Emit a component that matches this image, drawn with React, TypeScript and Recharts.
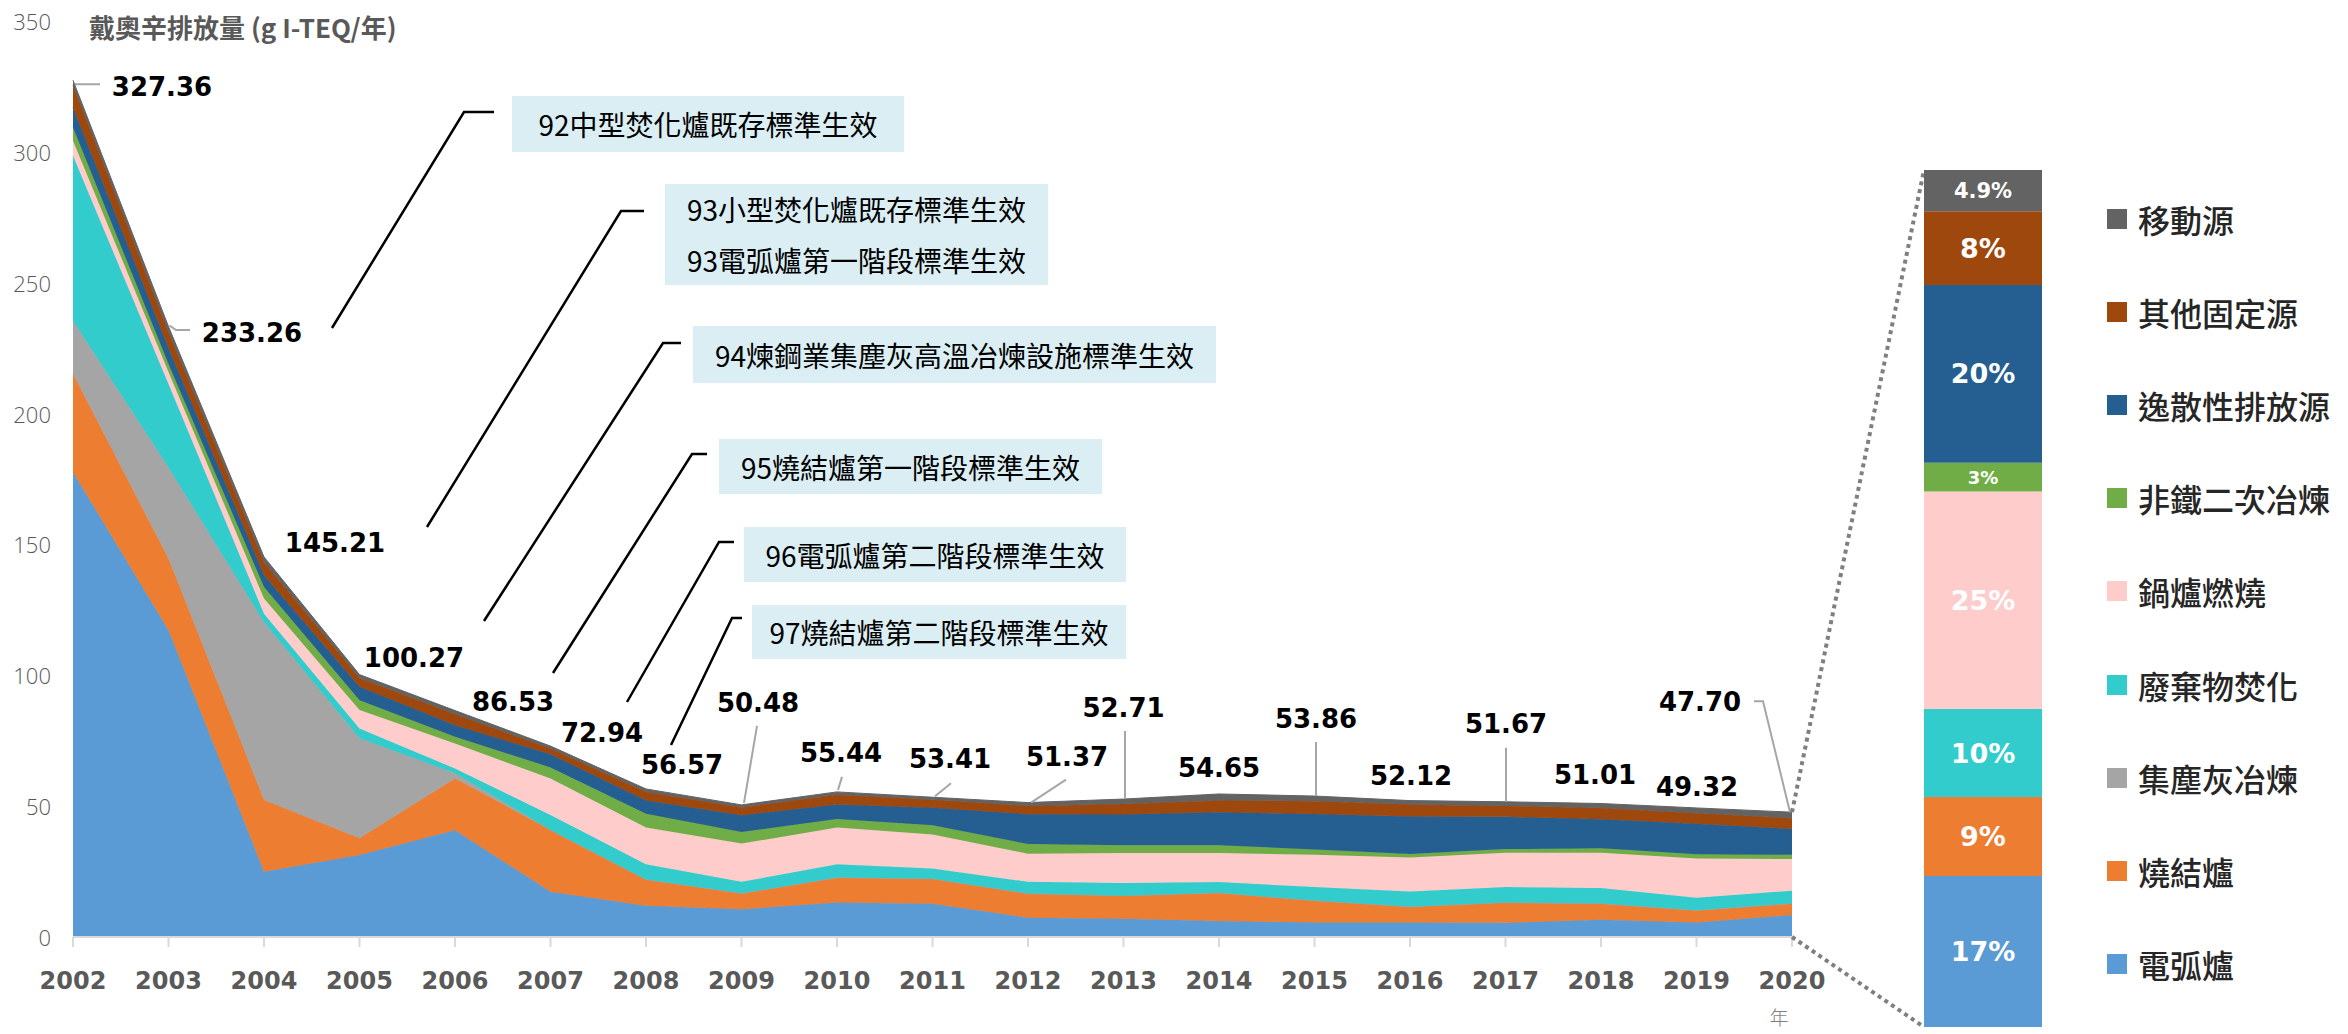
import { AreaChart, Area, XAxis, YAxis, BarChart, Bar, LabelList } from 'recharts'

const years = ['2002', '2003', '2004', '2005', '2006', '2007', '2008', '2009', '2010', '2011', '2012', '2013', '2014', '2015', '2016', '2017', '2018', '2019', '2020']
const totals = [327.36, 233.26, 145.21, 100.27, 86.53, 72.94, 56.57, 50.48, 55.44, 53.41, 51.37, 52.71, 54.65, 53.86, 52.12, 51.67, 51.01, 49.32, 47.7]

const arcFurnace = [177.6, 117.2, 24.9, 31.3, 40.8, 17.3, 11.9, 10.6, 13.2, 12.7, 7.4, 7.0, 6.1, 5.5, 5.5, 5.4, 6.6, 5.5, 8.4]
const sinterPlant = [37.5, 27.3, 27.4, 6.4, 19.8, 23.6, 10.1, 6.1, 9.5, 9.6, 9.2, 8.8, 10.8, 8.4, 6.1, 7.8, 6.2, 4.7, 4.4]
const dustSmelting = [20.4, 34.9, 68.0, 38.2, 2.0, 0, 0, 0, 0, 0, 0, 0, 0, 0, 0, 0, 0, 0, 0]
const wasteIncineration = [63.0, 31.9, 3.2, 3.8, 1.8, 5.7, 5.8, 4.4, 5.1, 3.9, 4.5, 4.8, 4.1, 5.2, 5.8, 5.9, 5.9, 4.8, 4.9]
const boiler = [5.7, 4.6, 5.8, 7.0, 9.5, 14.0, 14.0, 14.6, 14.0, 13.0, 10.7, 11.5, 11.1, 12.3, 13.0, 13.1, 13.5, 15.0, 12.1]
const nonFerrous = [5.1, 3.0, 4.4, 3.8, 2.6, 4.2, 5.3, 4.4, 3.3, 3.5, 3.7, 3.0, 3.0, 2.0, 1.3, 1.4, 1.7, 1.6, 1.6]
const fugitive = [7.6, 6.1, 4.5, 5.1, 4.4, 5.0, 5.1, 6.4, 5.5, 6.7, 11.4, 11.7, 12.6, 13.6, 14.3, 12.3, 11.1, 11.7, 9.9]
const otherStationary = [8.5, 6.1, 5.0, 3.4, 4.2, 2.2, 3.2, 3.0, 3.8, 3.0, 3.2, 4.0, 4.5, 4.9, 4.6, 4.2, 4.3, 4.0, 4.1]
const mobile = [1.96, 2.16, 2.01, 1.27, 1.43, 0.94, 1.17, 0.98, 1.04, 1.01, 1.27, 1.91, 2.45, 1.96, 1.52, 1.57, 1.71, 2.02, 2.3]

const yTicks = [0, 50, 100, 150, 200, 250, 300, 350]

// 2020 share labels shown in the side bar
const shareLabels: Record<string, string> = {
  電弧爐: '17%', 燒結爐: '9%', 廢棄物焚化: '10%', 鍋爐燃燒: '25%',
  非鐵二次冶煉: '3%', 逸散性排放源: '20%', 其他固定源: '8%', 移動源: '4.9%',
}

const series = [
  { key: '電弧爐', values: arcFurnace, color: '#5B9BD5' },
  { key: '燒結爐', values: sinterPlant, color: '#ED7D31' },
  { key: '集塵灰冶煉', values: dustSmelting, color: '#A5A5A5' },
  { key: '廢棄物焚化', values: wasteIncineration, color: '#33CCCC' },
  { key: '鍋爐燃燒', values: boiler, color: '#FFCCCC' },
  { key: '非鐵二次冶煉', values: nonFerrous, color: '#70AD47' },
  { key: '逸散性排放源', values: fugitive, color: '#255E91' },
  { key: '其他固定源', values: otherStationary, color: '#9E480E' },
  { key: '移動源', values: mobile, color: '#636363' },
]

const annotations = [
  { lines: ['92中型焚化爐既存標準生效'], box: [512, 96, 392, 56], leader: [[494, 112], [464, 112], [332, 328]] },
  { lines: ['93小型焚化爐既存標準生效', '93電弧爐第一階段標準生效'], box: [665, 184, 383, 101], leader: [[644, 211], [621, 211], [427, 527]] },
  { lines: ['94煉鋼業集塵灰高溫冶煉設施標準生效'], box: [693, 326, 523, 57], leader: [[681, 343], [663, 343], [484, 621]] },
  { lines: ['95燒結爐第一階段標準生效'], box: [719, 439, 383, 55], leader: [[707, 454], [692, 454], [553, 673]] },
  { lines: ['96電弧爐第二階段標準生效'], box: [744, 527, 382, 55], leader: [[734, 542], [719, 542], [627, 702]] },
  { lines: ['97燒結爐第二階段標準生效'], box: [752, 605, 374, 54], leader: [[742, 618], [732, 618], [671, 745]] },
]

const labelOffsets: [number, number][] = [
  [89, 7], [83.5, 6.5], [71, -14], [54.5, -16.6], [58, -8.6], [51.5, -13], [36, -24], [16.5, -102],
  [4, -39], [17.5, -38], [39, -45.6], [0, -91], [0, -26], [1.5, -77], [1, -25], [0.5, -78],
  [-6, -28.5], [0.5, -21], [-92, -110],
]
const labelLeaders: Record<number, [number, number][]> = {
  0: [[2, 4], [27, 4]],
  1: [[1, -1], [7.5, 3.5], [21.5, 3.5]],
  7: [[2.5, -2], [15.5, -79]],
  8: [[1, -2], [5, -15]],
  9: [[2.5, -1], [18.5, -14]],
  10: [[3, 0], [38, -23]],
  11: [[1.5, 0], [1.5, -68]],
  13: [[1.5, 0], [1.5, -54]],
  15: [[0.5, 0], [0.5, -54]],
  18: [[-2, 0], [-29, -111], [-38, -111]],
}

const PLOT_BOTTOM = 937
const BAR_X = 1924
const BAR_Y = 170
const BAR_W = 118
const BAR_H = 857

const data = years.map((year, i) => {
  const row: Record<string, number | string> = { year }
  series.forEach(s => { row[s.key] = s.values[i] })
  return row
})
const last = years.length - 1
const barRow: Record<string, number | string> = { name: years[last] }
series.forEach(s => { barRow[s.key] = s.values[last] })
const barData = [barRow]

const cjk = "'Noto Sans CJK TC', 'Noto Sans CJK SC', sans-serif"
const boldNum = "'DejaVu Sans', sans-serif"

const TotalMark = (props: any) => {
  const { cx, cy, index } = props
  if (cx == null || cy == null) return <g key={`t${index}`} />
  const [dx, dy] = labelOffsets[index]
  const leader = labelLeaders[index]
  return (
    <g key={`t${index}`}>
      {leader && (
        <polyline
          points={leader.map(p => `${cx + p[0]},${cy + p[1]}`).join(' ')}
          fill="none" stroke="#A6A6A6" strokeWidth={2}
        />
      )}
      {index === last && (
        <g>
          <line x1={cx} y1={cy} x2={BAR_X} y2={BAR_Y} stroke="#7F7F7F" strokeWidth={4} strokeDasharray="4 4" />
          <line x1={cx} y1={PLOT_BOTTOM} x2={BAR_X} y2={BAR_Y + BAR_H} stroke="#7F7F7F" strokeWidth={4} strokeDasharray="4 4" />
        </g>
      )}
      <text x={cx + dx} y={cy + dy} textAnchor="middle" dominantBaseline="central"
        fontFamily={boldNum} fontWeight={700} fontSize={26} fill="#000">
        {totals[index].toFixed(2)}
      </text>
    </g>
  )
}

const YearTick = ({ x, y, payload }: any) => (
  <text x={x} y={y + 32} textAnchor="middle" dominantBaseline="central"
    fontFamily={boldNum} fontWeight={700} fontSize={24} fill="#595959">
    {payload.value}
  </text>
)

const ValueTick = ({ y, payload }: any) => (
  <text x={51} y={y} textAnchor="end" dominantBaseline="central"
    fontFamily="'Open Sans', sans-serif" fontWeight={300} fontSize={22} fill="#595959">
    {payload.value}
  </text>
)

const shareSize = (k: string) => (k === '移動源' ? 21 : k === '非鐵二次冶煉' ? 18 : 27)

export default function App() {
  return (
    <div style={{ position: 'absolute', left: 0, top: 0, width: 2348, height: 1034, background: '#fff', overflow: 'hidden' }}>
      <div style={{ position: 'absolute', left: 0, top: 0 }}>
        <AreaChart width={1940} height={1034} data={data} margin={{ top: 21, right: 148, left: 13, bottom: 37 }}>
          <XAxis dataKey="year" height={60} interval={0} tick={<YearTick />}
            axisLine={{ stroke: '#D9D9D9', strokeWidth: 2 }} tickLine={{ stroke: '#D9D9D9', strokeWidth: 2 }} tickSize={10} />
          <YAxis width={60} domain={[0, 350]} ticks={yTicks} axisLine={false} tickLine={false} tick={<ValueTick />} />
          {series.map((s, i) => (
            <Area
              key={s.key}
              type="linear"
              dataKey={s.key}
              stackId="1"
              stroke={s.color}
              strokeWidth={1}
              fill={s.color}
              fillOpacity={1}
              isAnimationActive={false}
              activeDot={false}
              dot={i === series.length - 1 ? TotalMark : false}
            />
          ))}
        </AreaChart>
      </div>

      <div style={{ position: 'absolute', left: BAR_X, top: BAR_Y }}>
        <BarChart width={BAR_W} height={BAR_H} data={barData} margin={{ top: 0, right: 0, bottom: 0, left: 0 }} barCategoryGap={0}>
          <XAxis dataKey="name" hide />
          <YAxis hide domain={[0, totals[last]]} allowDataOverflow />
          {series.filter(s => s.key !== '集塵灰冶煉').map(s => (
            <Bar key={s.key} dataKey={s.key} stackId="b" fill={s.color} isAnimationActive={false}>
              <LabelList
                dataKey={s.key}
                content={(p: any) => (
                  <text x={p.x + p.width / 2} y={p.y + p.height / 2} textAnchor="middle" dominantBaseline="central"
                    fontFamily={boldNum} fontWeight={700} fontSize={shareSize(s.key)} fill="#fff">
                    {shareLabels[s.key]}
                  </text>
                )}
              />
            </Bar>
          ))}
        </BarChart>
      </div>

      {/* legend, top to bottom */}
      <div style={{ position: 'absolute', left: 2107, top: 0 }}>
        {[...series].reverse().map((s, i) => (
          <div key={s.key} style={{ position: 'absolute', top: 219 + i * 93.1 - 20, left: 0, height: 40, display: 'flex', alignItems: 'center', whiteSpace: 'nowrap' }}>
            <div style={{ width: 20, height: 20, background: s.color, marginRight: 11 }} />
            <span style={{ fontFamily: cjk, fontSize: 32, fontWeight: 500, color: '#262626' }}>{s.key}</span>
          </div>
        ))}
      </div>

      <svg width={2348} height={1034} style={{ position: 'absolute', left: 0, top: 0, pointerEvents: 'none' }}>
        <text x={89} y={26} dominantBaseline="central" fontFamily={cjk} fontWeight={700} fontSize={26} fill="#595959">
          戴奧辛排放量 (g I-TEQ/年)
        </text>
        <text x={1779} y={1016} textAnchor="middle" dominantBaseline="central" fontFamily={cjk} fontWeight={300} fontSize={19} fill="#7F7F7F">年</text>
        {annotations.map((a, i) => {
          const [bx, by, bw, bh] = a.box
          const lh = bh / a.lines.length
          return (
            <g key={i}>
              <rect x={bx} y={by} width={bw} height={bh} fill="#DAEEF3" />
              {a.lines.map((t, j) => (
                <text key={j} x={bx + bw / 2} y={by + lh * (j + 0.5)} textAnchor="middle" dominantBaseline="central"
                  fontFamily={cjk} fontSize={28} fill="#000">
                  {t}
                </text>
              ))}
              <polyline points={a.leader.map(p => p.join(',')).join(' ')} fill="none" stroke="#000" strokeWidth={2.5} />
            </g>
          )
        })}
      </svg>
    </div>
  )
}
